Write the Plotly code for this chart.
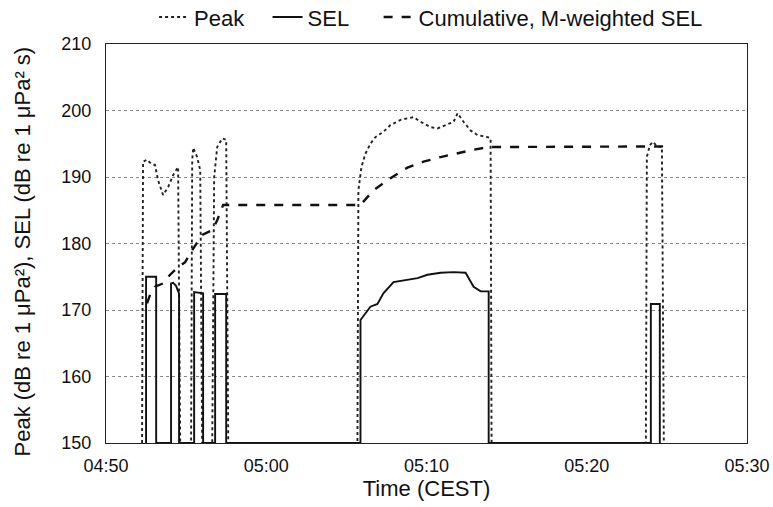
import pandas as pd
import plotly.graph_objects as go

# minutes after 04:50 (CEST)
peak_min = [2.25, 2.31, 2.56, 2.81, 3.06, 3.25, 3.56, 3.88, 4.19, 4.50, 4.63,
            5.31, 5.38, 5.44, 5.69, 5.88, 6.00,
            6.63, 6.75, 6.94, 7.25, 7.50, 7.63,
            15.69, 15.75, 15.94, 16.19, 16.50, 16.81, 17.31, 17.75, 18.38, 19.19,
            19.63, 20.25, 20.69, 21.19, 21.69, 21.94, 22.31, 22.75, 23.19, 23.81,
            24.00, 24.06,
            33.69, 33.75, 33.94, 34.13, 34.38, 34.69, 34.81]
peak_db = [150, 192.3, 192.6, 192.0, 191.8, 189.5, 187.3, 188.5, 190.3, 191.5, 150,
           150, 192.5, 194.4, 193.0, 191.0, 150,
           150, 190.0, 194.5, 195.8, 195.6, 150,
           150, 188.0, 191.5, 193.5, 195.0, 196.0, 196.8, 197.8, 198.6, 199.0,
           198.3, 197.5, 197.3, 197.8, 198.3, 199.6, 198.3, 197.0, 196.3, 196.0,
           195.8, 150,
           150, 193.0, 194.8, 195.3, 194.6, 194.5, 150]

sel_min = [2.50, 2.50, 3.13, 3.13,
           4.06, 4.06, 4.19, 4.38, 4.50, 4.56, 4.56,
           5.50, 5.50, 5.94, 6.06, 6.06,
           6.81, 6.81, 7.50, 7.50,
           15.88, 15.88, 16.50, 16.94, 17.31, 17.94, 18.81, 19.44, 20.06, 20.88,
           21.69, 22.44, 22.94, 23.38, 23.88, 23.88,
           34.00, 34.00, 34.56, 34.56]
sel_db = [150, 175.0, 175.0, 150,
          150, 174.0, 174.1, 173.6, 172.8, 172.5, 150,
          150, 172.7, 172.5, 172.5, 150,
          150, 172.4, 172.4, 150,
          150, 168.5, 170.5, 170.9, 172.5, 174.2, 174.5, 174.8, 175.3, 175.6,
          175.7, 175.6, 173.5, 172.8, 172.8, 150,
          150, 170.9, 170.9, 150]

cum_min = [2.56, 2.75, 3.06, 3.56, 4.00, 4.44, 4.94, 5.38, 6.00, 6.63, 6.94,
           7.31, 7.50, 15.88, 16.69, 17.75, 18.81, 19.81, 20.88, 21.94, 22.94,
           23.88, 34.94]
cum_db = [171.0, 172.3, 173.5, 174.0, 175.3, 176.3, 177.2, 179.0, 181.3, 182.0,
          183.5, 185.8, 185.8, 185.8, 188.0, 189.8, 191.4, 192.3, 193.0, 193.6,
          194.1, 194.5, 194.6]

x_ticks = ["04:50", "05:00", "05:10", "05:20", "05:30"]
y_ticks = [150, 160, 170, 180, 190, 200, 210]

base = pd.Timestamp("2000-01-01 04:50:00")


def to_time(mins):
    return [base + pd.Timedelta(minutes=m) for m in mins]


tick_vals = [pd.Timestamp("2000-01-01 " + t + ":00") for t in x_ticks]
pad = "\u00a0" * 3

fig = go.Figure()
fig.add_trace(go.Scatter(x=to_time(peak_min), y=peak_db, mode="lines", name="Peak" + pad,
                         line=dict(color="#222", width=1.9, dash="dot")))
fig.add_trace(go.Scatter(x=to_time(sel_min), y=sel_db, mode="lines", name="SEL" + pad + "\u00a0",
                         line=dict(color="#111", width=1.9)))
fig.add_trace(go.Scatter(x=to_time(cum_min), y=cum_db, mode="lines",
                         name="Cumulative, M-weighted SEL",
                         line=dict(color="#111", width=2.4, dash="dash")))

fig.update_layout(
    width=773, height=507,
    margin=dict(l=106, r=26, t=44, b=64, autoexpand=False),
    paper_bgcolor="white", plot_bgcolor="white",
    font=dict(family="Liberation Sans, Arial, sans-serif", size=17, color="#111"),
    showlegend=True,
    legend=dict(orientation="h", x=0.075, xanchor="left",
                yref="container", y=0.966, yanchor="middle",
                font=dict(size=22), itemwidth=30,
                bgcolor="rgba(0,0,0,0)"),
    annotations=[dict(text="Peak (dB re 1 μPa²), SEL (dB re 1 μPa² s)",
                      xref="paper", yref="paper", x=-0.131, y=0.48,
                      xanchor="center", yanchor="middle", textangle=-90,
                      showarrow=False, font=dict(size=22, color="#111"))],
)
fig.update_xaxes(
    type="date",
    range=[tick_vals[0], tick_vals[-1]],
    tickvals=tick_vals, ticktext=x_ticks,
    showgrid=False, zeroline=False,
    showline=True, linecolor="#222", linewidth=1, mirror=True,
    ticks="", tickfont=dict(size=18), ticklabelstandoff=6,
    title=dict(text="Time (CEST)", font=dict(size=22), standoff=3),
)
fig.update_yaxes(
    range=[150, 210], tickvals=y_ticks,
    showgrid=True, gridcolor="#888", griddash="dot", gridwidth=1,
    zeroline=False, automargin=False,
    showline=True, linecolor="#222", linewidth=1, mirror=True,
    ticks="", tickfont=dict(size=18), ticklabelstandoff=10,
)

fig.write_html("out.html")
